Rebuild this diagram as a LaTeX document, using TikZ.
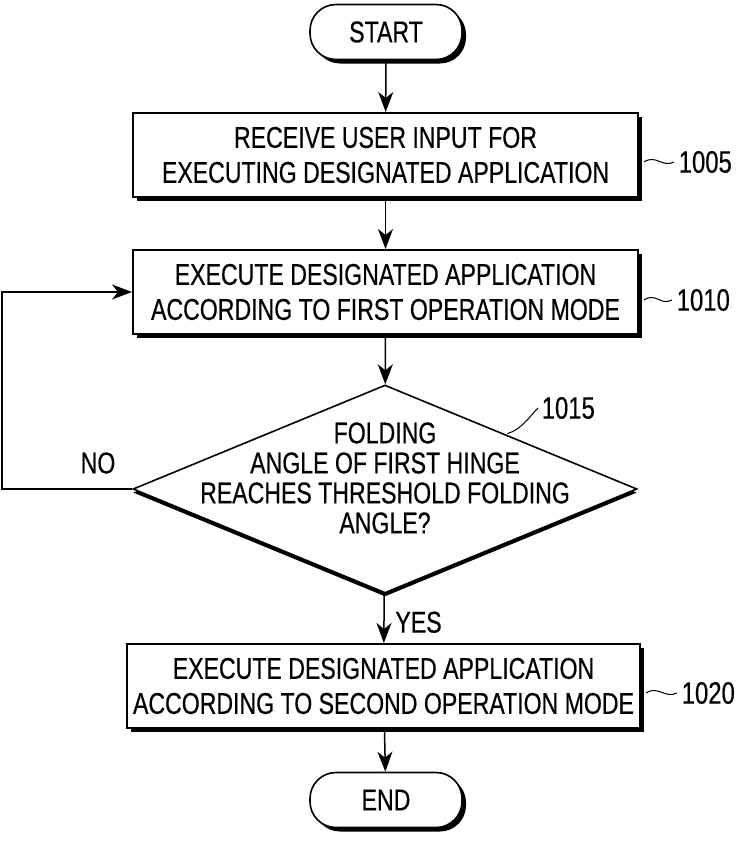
\documentclass[tikz,border=0pt]{standalone}
\usepackage{fontspec}
\setmainfont{Liberation Sans}[FakeStretch=0.77, FakeBold=0.4]
\usetikzlibrary{shapes.geometric,shadows,arrows.meta}

\begin{document}
\begin{tikzpicture}[x=0.5pt, y=-0.5pt, line width=0.75pt,
    font=\fontsize{15}{17.5}\selectfont,
    >={Stealth[length=10pt,width=7.5pt,inset=3pt]},
    castshadow/.style={drop shadow={shadow xshift=2pt, shadow yshift=-2pt, opacity=1, fill=black}},
    terminal/.style={rectangle, rounded corners=13pt, draw, fill=white, line width=0.8pt, minimum width=76pt, minimum height=27.5pt, castshadow},
    stepbox/.style={rectangle, draw, fill=white, line width=1pt, minimum width=252.5pt, minimum height=42pt, inner xsep=2pt, align=center, castshadow},
    decision/.style={diamond, draw, fill=white, line width=0.8pt, inner sep=0pt, minimum width=252pt, minimum height=104pt,
        drop shadow={shadow xshift=0pt, shadow yshift=-1.8pt, opacity=1, fill=black}},
    refnum/.style={anchor=west, inner sep=0pt, font=\fontsize{15.5}{15.5}\selectfont},
    leader/.style={line width=0.5pt}]

    \useasboundingbox (0,0) rectangle (735,846);

    \node[terminal] at (386,32) (start) {START};
    \node[stepbox] at (385.5,155) (receive) {RECEIVE USER INPUT FOR\\EXECUTING DESIGNATED APPLICATION};
    \node[stepbox] at (385.5,292) (firstmode) {EXECUTE DESIGNATED APPLICATION\\ACCORDING TO FIRST OPERATION MODE};
    \node[decision] at (385,489) (check) {};
    \node[align=center, font=\fontsize{15}{15}\selectfont] at (385,478) (checktext) {FOLDING\\ANGLE OF FIRST HINGE\\REACHES THRESHOLD FOLDING\\ANGLE?};
    \node[stepbox, minimum width=256.5pt] at (383.5,686) (secondmode) {EXECUTE DESIGNATED APPLICATION\\ACCORDING TO SECOND OPERATION MODE};
    \node[terminal] at (386,800) (end) {END};

    % reference numerals
    \node[refnum] at (678,162) (n1005) {1005};
    \node[refnum] at (676,300) (n1010) {1010};
    \node[refnum] at (541,408) (n1015) {1015};
    \node[refnum] at (681,693) (n1020) {1020};
    \draw[leader] ([xshift=2.5pt]receive.east |- n1005.west) .. controls +(12,-8) and +(-12,6) .. ([xshift=-2pt]n1005.west);
    \draw[leader] ([xshift=2.5pt]firstmode.east |- n1010.west) .. controls +(12,-8) and +(-12,6) .. ([xshift=-2pt]n1010.west);
    \draw[leader] ([xshift=2.5pt]secondmode.east |- n1020.west) .. controls +(12,-8) and +(-12,6) .. ([xshift=-2pt]n1020.west);
    \draw[leader] (check.north east) ++(-4,-3) coordinate (c1015) .. controls +(14,-4) and +(-8,8) .. ([xshift=-1.5pt]n1015.west);

    \draw [->] (start) -- (receive);
    \draw [->] (receive) -- (firstmode);
    \draw [->] (firstmode) -- (check);
    \draw [->] (check) -- node [right, xshift=2pt, yshift=-2pt] (yes) {YES} (secondmode);
    \draw [->] (secondmode) -- (end);
    \draw [->] (check.west) -- ++(-130,0) |- (firstmode.west);
    \node at (98,463) (no) {NO};

\end{tikzpicture}
\end{document}
